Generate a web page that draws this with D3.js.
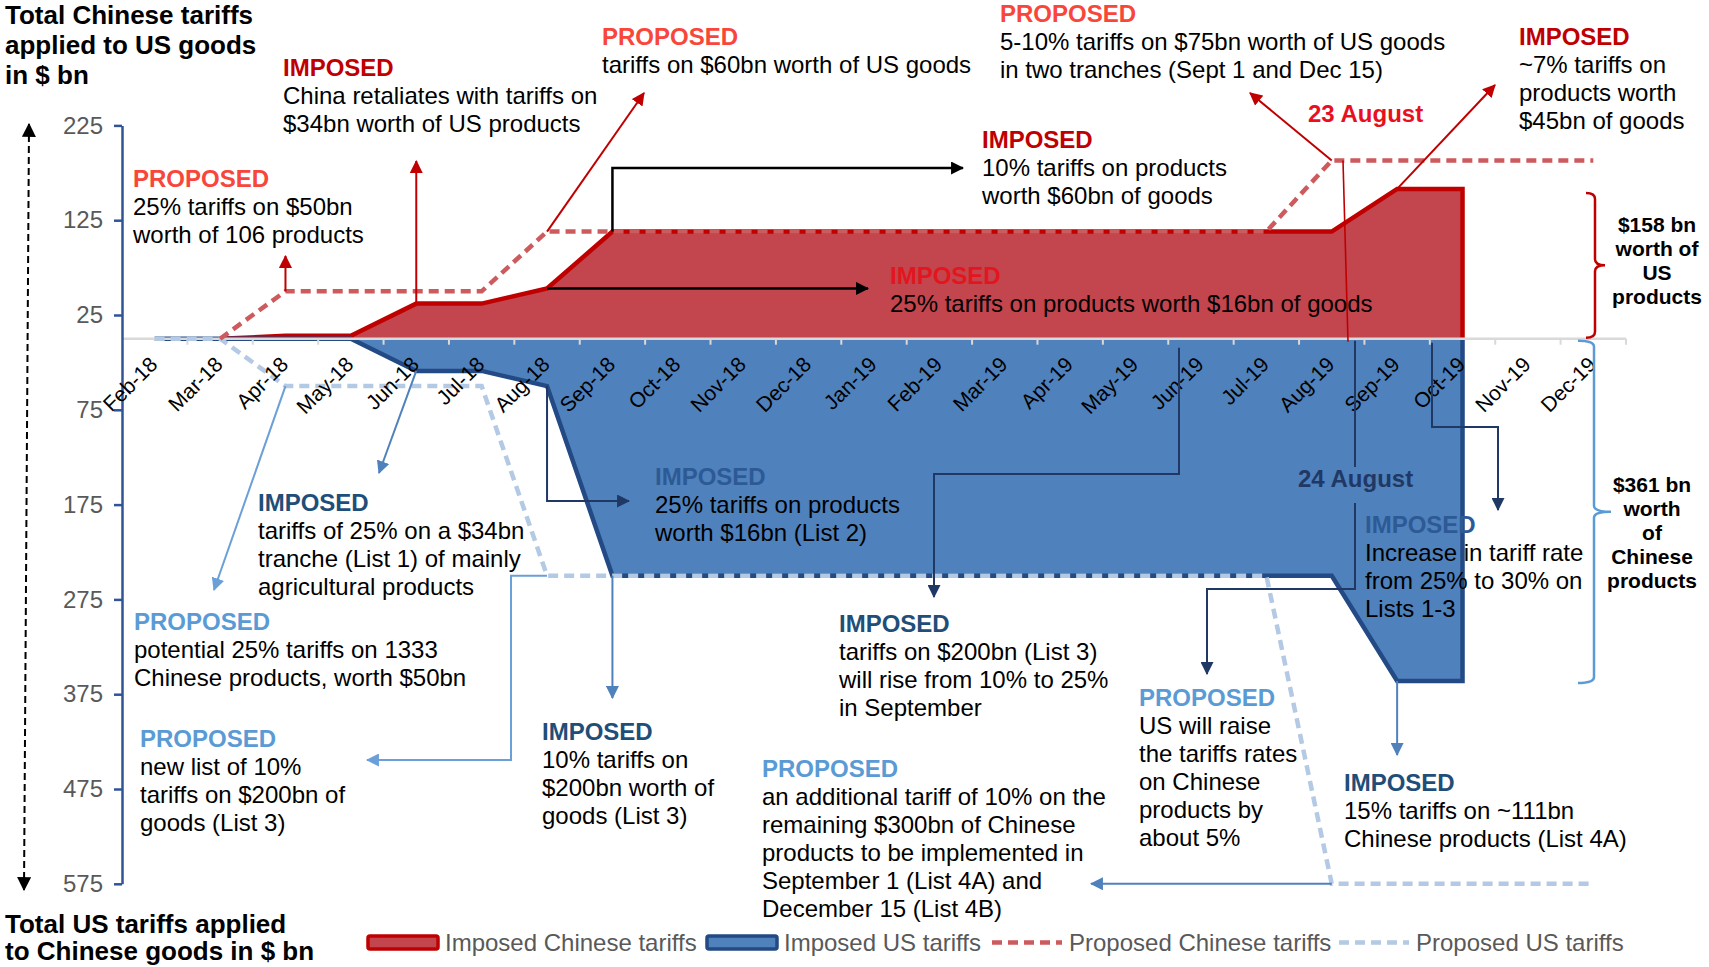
<!DOCTYPE html>
<html>
<head>
<meta charset="utf-8">
<script src="https://cdn.jsdelivr.net/npm/d3@7"></script>
<style>
  html, body { margin: 0; padding: 0; background: #fff; }
  svg { display: block; font-family: "Liberation Sans", Arial, sans-serif; }
</style>
</head>
<body>
<svg id="chart" width="1709" height="967"></svg>
<script>
// ---- Data (bn USD, cumulative; US tariffs shown as negative values) ----
const months = ["Feb-18","Mar-18","Apr-18","May-18","Jun-18","Jul-18","Aug-18","Sep-18",
  "Oct-18","Nov-18","Dec-18","Jan-19","Feb-19","Mar-19","Apr-19","May-19","Jun-19",
  "Jul-19","Aug-19","Sep-19","Oct-19","Nov-19","Dec-19"];

const chineseImposed = [null, 0, 3, 3, 37, 37, 53, 113, 113, 113, 113, 113, 113, 113,
  113, 113, 113, 113, 113, 158, 158, null, null];

const usImposed = [0, 0, 0, 0, -34, -34, -50, -250, -250, -250, -250, -250, -250, -250,
  -250, -250, -250, -250, -250, -361, -361, null, null];

const chineseProposed = [null, 0, 50, 50, 50, 50, 113, 113, 113, 113, 113, 113, 113, 113,
  113, 113, 113, 113, 188, 188, 188, 188, 188];

const usProposed = [0, 0, -50, -50, -50, -50, -250, -250, -250, -250, -250, -250, -250,
  -250, -250, -250, -250, -250, -575, -575, -575, -575, -575];

const yTicks = [225, 125, 25, -75, -175, -275, -375, -475, -575];

// ---- Palette ----
const C = {
  redFill: "#C3454D", redLine: "#C00000", redDash: "#CD5B5E",
  blueFill: "#4F81BD", blueLine: "#234A84", blueDash: "#B4C9E4",
  redProposed: "#F8463A", redImposed: "#C00000", redImposedOnFill: "#E3161F",
  blueProposed: "#5B9BD5", blueImposed: "#1F4E79", blueImposedOnFill: "#2D5A94",
  navy: "#1F3864", midBlue: "#4F81BD", lightBlue: "#6A9FD8",
  axisGray: "#D9D9D9", tickText: "#595959"
};

const svg = d3.select("#chart");
svg.append("rect").attr("width", 1709).attr("height", 967).attr("fill", "#fff");

const x = d3.scaleBand().domain(months).range([122, 1626]);
const cx = m => x(m) + x.bandwidth() / 2;
const y = d3.scaleLinear().domain([-575, 225]).range([883.8, 125.4]);

const series = vals => months.map((m, i) => ({ m, v: vals[i] }));
const area = d3.area().defined(d => d.v !== null)
  .x(d => cx(d.m)).y0(y(0)).y1(d => y(d.v));
const line = d3.line().defined(d => d.v !== null)
  .x(d => cx(d.m)).y(d => y(d.v));

// outline of an imposed area: its top edge plus the closing drop back to zero
function outline(vals) {
  const pts = series(vals).filter(d => d.v !== null);
  const last = pts[pts.length - 1];
  return pts.concat([{ m: last.m, v: 0 }]);
}

// ---- Markers ----
const defs = svg.append("defs");
function marker(id, color, size) {
  defs.append("marker").attr("id", id)
    .attr("viewBox", "0 0 12 12").attr("refX", 11).attr("refY", 6)
    .attr("markerWidth", size || 13).attr("markerHeight", size || 13)
    .attr("markerUnits", "userSpaceOnUse").attr("orient", "auto-start-reverse")
    .append("path").attr("d", "M0,0 L12,6 L0,12 Z").attr("fill", color);
}
marker("mRed", C.redLine);
marker("mBlack", "#000");
marker("mNavy", C.navy);
marker("mMid", C.midBlue);
marker("mLight", C.lightBlue);
marker("mAxis", "#000", 14);

// ---- Imposed areas ----
svg.append("path").datum(series(chineseImposed)).attr("d", area).attr("fill", C.redFill);
svg.append("path").datum(series(usImposed)).attr("d", area).attr("fill", C.blueFill);

svg.append("path").datum(outline(chineseImposed)).attr("d", line)
  .attr("fill", "none").attr("stroke", C.redLine).attr("stroke-width", 4.5)
  .attr("stroke-linejoin", "miter");
svg.append("path").datum(outline(usImposed)).attr("d", line)
  .attr("fill", "none").attr("stroke", C.blueLine).attr("stroke-width", 4.5)
  .attr("stroke-linejoin", "miter");

// ---- Category axis at zero ----
const gx = svg.append("g");
gx.append("line").attr("x1", x.range()[0]).attr("x2", x.range()[1])
  .attr("y1", y(0)).attr("y2", y(0))
  .attr("stroke", C.axisGray).attr("stroke-width", 2.5);
const bounds = months.map(m => x(m)).concat([x.range()[1]]).slice(1);
gx.selectAll("line.tk").data(bounds).join("line").attr("class", "tk")
  .attr("x1", d => d).attr("x2", d => d)
  .attr("y1", y(0)).attr("y2", y(0) + 6)
  .attr("stroke", C.axisGray).attr("stroke-width", 2);

// ---- Proposed dashed lines ----
svg.append("path").datum(series(usProposed)).attr("d", line)
  .attr("fill", "none").attr("stroke", C.blueDash).attr("stroke-width", 4.5)
  .attr("stroke-dasharray", "10,6");
svg.append("path").datum(series(chineseProposed)).attr("d", line)
  .attr("fill", "none").attr("stroke", C.redDash).attr("stroke-width", 4.5)
  .attr("stroke-dasharray", "10,6");

// ---- Value axis ----
const gy = svg.append("g").attr("transform", "translate(122,0)")
  .call(d3.axisLeft(y).tickValues(yTicks).tickFormat(d => Math.abs(d))
    .tickSize(8).tickSizeOuter(0).tickPadding(11))
  .attr("font-family", "Liberation Sans, Arial, sans-serif").attr("font-size", 24);
gy.select(".domain").attr("stroke", "#2F5597").attr("stroke-width", 2.5);
gy.selectAll(".tick line").attr("stroke", "#2F5597").attr("stroke-width", 2.5);
gy.selectAll(".tick text").attr("fill", C.tickText);

// ---- Month labels ----
svg.append("g").selectAll("text").data(months).join("text")
  .attr("transform", m => `translate(${cx(m) + 4},${y(0) + 27}) rotate(-45)`)
  .attr("text-anchor", "end").attr("font-size", 21).attr("fill", "#000")
  .text(m => m);

// ---- Direction arrow on the far left ----
svg.append("line").attr("x1", 29).attr("y1", 124).attr("x2", 24).attr("y2", 890)
  .attr("stroke", "#000").attr("stroke-width", 2).attr("stroke-dasharray", "7,4")
  .attr("marker-start", "url(#mAxis)").attr("marker-end", "url(#mAxis)");

// ---- Brackets on the right ----
function brace(x0, x1, x2, yTop, yBot, color) {
  const ym = (yTop + yBot) / 2, r = 6;
  const p = `M${x0},${yTop} Q${x1},${yTop} ${x1},${yTop + r} L${x1},${ym - r} ` +
    `Q${x1},${ym} ${x2},${ym} Q${x1},${ym} ${x1},${ym + r} L${x1},${yBot - r} ` +
    `Q${x1},${yBot} ${x0},${yBot}`;
  svg.append("path").attr("d", p).attr("fill", "none")
    .attr("stroke", color).attr("stroke-width", 2.5);
}
brace(1586, 1595, 1605, y(158) + 4, y(0) - 1, C.redLine);
brace(1578, 1594, 1611, y(0) + 2, y(-361) + 2, C.blueProposed);

// ---- Leader arrows ----
function arrow(pts, color, mk, w, head) {
  svg.append("path").attr("d", d3.line()(pts)).attr("fill", "none")
    .attr("stroke", color).attr("stroke-width", w || 2)
    .attr("marker-end", head === false ? null : `url(#${mk})`);
}
// Chinese side
arrow([[cx("Apr-18"), y(50)], [cx("Apr-18"), 256]], C.redLine, "mRed");
arrow([[cx("Jun-18"), y(37)], [cx("Jun-18"), 161]], C.redLine, "mRed");
arrow([[cx("Aug-18"), y(113)], [644, 93]], C.redLine, "mRed");
arrow([[cx("Sep-18"), y(113)], [cx("Sep-18"), 168], [963, 168]], "#000", "mBlack", 2.5);
arrow([[cx("Aug-18"), y(53)], [868, y(53)]], "#000", "mBlack", 2.5);
arrow([[cx("Aug-19"), y(188)], [1250, 93]], C.redLine, "mRed");
arrow([[cx("Sep-19"), y(158)], [1495, 85]], C.redLine, "mRed");
arrow([[1343, y(188)], [1348, y(0) + 3]], C.redLine, null, 1.6, false);
// US side
arrow([[1355, y(0) + 2], [1355, 467]], C.navy, null, 2, false);
arrow([[1355, 503], [1355, 589], [1207, 589], [1207, 674]], C.navy, "mNavy");
arrow([[1432, y(0) + 4], [1432, 427], [1498, 427], [1498, 510]], C.navy, "mNavy");
arrow([[1179, y(0) + 9], [1179, 474], [934, 474], [934, 597]], C.navy, "mNavy");
arrow([[cx("Aug-18"), y(-50)], [cx("Aug-18"), 501], [629, 501]], C.navy, "mNavy");
arrow([[cx("Jun-18"), y(-34)], [379, 473]], C.midBlue, "mMid");
arrow([[cx("Apr-18"), y(-50)], [214, 590]], C.lightBlue, "mLight");
arrow([[cx("Aug-18"), y(-250)], [511, y(-250)], [511, 760], [367, 760]], C.lightBlue, "mLight");
arrow([[cx("Sep-18"), y(-250)], [cx("Sep-18"), 698]], C.midBlue, "mMid");
arrow([[cx("Aug-19"), y(-575)], [1091, y(-575)]], C.midBlue, "mMid");
arrow([[cx("Sep-19"), y(-361)], [cx("Sep-19"), 755]], C.midBlue, "mMid");

// ---- Text blocks ----
function block(xp, yp, head, color, lines, opts) {
  opts = opts || {};
  const lh = opts.lh || 28, fs = opts.fs || 24;
  const t = svg.append("text").attr("x", xp).attr("y", yp).attr("font-size", fs)
    .attr("text-anchor", opts.anchor || "start");
  let i = 0;
  if (head) {
    t.append("tspan").attr("x", xp).attr("y", yp).attr("font-weight", "bold")
      .attr("fill", color).text(head);
    i = 1;
  }
  lines.forEach((ln, k) => {
    t.append("tspan").attr("x", xp).attr("y", yp + (i + k) * lh)
      .attr("font-weight", opts.bold ? "bold" : "normal")
      .attr("fill", opts.fill || "#000").text(ln);
  });
}

// axis titles
block(5, 24, null, null, ["Total Chinese tariffs", "applied to US goods", "in $ bn"],
  { bold: true, fs: 26, lh: 30 });
block(5, 933, null, null, ["Total US tariffs applied", "to Chinese goods in $ bn"],
  { bold: true, fs: 26, lh: 27 });

// Chinese measures
block(133, 187, "PROPOSED", C.redProposed, ["25% tariffs on $50bn", "worth of 106 products"]);
block(283, 76, "IMPOSED", C.redImposed, ["China retaliates with tariffs on", "$34bn worth of US products"]);
block(602, 45, "PROPOSED", C.redProposed, ["tariffs on $60bn worth of US goods"]);
block(1000, 22, "PROPOSED", C.redProposed, ["5-10% tariffs on $75bn worth of US goods", "in two tranches (Sept 1 and Dec 15)"]);
block(1519, 45, "IMPOSED", C.redImposed, ["~7% tariffs on", "products worth", "$45bn of goods"]);
block(982, 148, "IMPOSED", C.redImposed, ["10% tariffs on products", "worth $60bn of goods"]);
block(890, 284, "IMPOSED", C.redImposedOnFill, ["25% tariffs on products worth $16bn of goods"]);
svg.append("text").attr("x", 1308).attr("y", 122).attr("font-size", 24)
  .attr("font-weight", "bold").attr("fill", "#E8101E").text("23 August");

// US measures
block(655, 485, "IMPOSED", C.blueImposedOnFill, ["25% tariffs on products", "worth $16bn (List 2)"]);
svg.append("text").attr("x", 1298).attr("y", 487).attr("font-size", 24)
  .attr("font-weight", "bold").attr("fill", C.navy).text("24 August");
block(1365, 533, "IMPOSED", C.blueImposedOnFill, ["Increase in tariff rate", "from 25% to 30% on", "Lists 1-3"]);
block(258, 511, "IMPOSED", C.blueImposed, ["tariffs of 25% on a $34bn", "tranche (List 1) of mainly", "agricultural  products"]);
block(134, 630, "PROPOSED", C.blueProposed, ["potential 25% tariffs on 1333", "Chinese products, worth $50bn"]);
block(140, 747, "PROPOSED", C.blueProposed, ["new list of 10%", "tariffs on $200bn of", "goods (List 3)"]);
block(542, 740, "IMPOSED", C.blueImposed, ["10% tariffs on", "$200bn worth of", "goods (List 3)"]);
block(839, 632, "IMPOSED", C.blueImposed, ["tariffs on $200bn (List 3)", "will rise from 10% to 25%", "in September"]);
block(762, 777, "PROPOSED", C.blueProposed, ["an additional tariff of 10% on the", "remaining $300bn of Chinese",
  "products to be implemented in", "September 1 (List 4A) and", "December 15 (List 4B)"]);
block(1139, 706, "PROPOSED", C.blueProposed, ["US will raise", "the tariffs rates", "on Chinese", "products by", "about 5%"]);
block(1344, 791, "IMPOSED", C.blueImposed, ["15% tariffs on ~111bn", "Chinese products (List 4A)"]);

// bracket captions
block(1657, 232, null, null, ["$158 bn", "worth of", "US", "products"],
  { bold: true, fs: 21, lh: 24, anchor: "middle" });
block(1652, 492, null, null, ["$361 bn", "worth", "of", "Chinese", "products"],
  { bold: true, fs: 21, lh: 24, anchor: "middle" });

// ---- Legend ----
const legend = [
  { label: "Imposed Chinese tariffs", kind: "rect", fill: C.redFill, stroke: C.redLine, x: 368 },
  { label: "Imposed US tariffs", kind: "rect", fill: C.blueFill, stroke: C.blueLine, x: 707 },
  { label: "Proposed Chinese tariffs", kind: "dash", stroke: C.redDash, x: 992 },
  { label: "Proposed US tariffs", kind: "dash", stroke: C.blueDash, x: 1339 }
];
const lg = svg.append("g");
legend.forEach(d => {
  if (d.kind === "rect") {
    lg.append("rect").attr("x", d.x).attr("y", 936).attr("width", 70).attr("height", 13)
      .attr("rx", 2).attr("fill", d.fill).attr("stroke", d.stroke).attr("stroke-width", 3.5);
  } else {
    lg.append("line").attr("x1", d.x).attr("x2", d.x + 70).attr("y1", 942.5).attr("y2", 942.5)
      .attr("stroke", d.stroke).attr("stroke-width", 4.5).attr("stroke-dasharray", "10,6");
  }
  lg.append("text").attr("x", d.x + 77).attr("y", 951).attr("font-size", 24)
    .attr("fill", C.tickText).text(d.label);
});
</script>
</body>
</html>
